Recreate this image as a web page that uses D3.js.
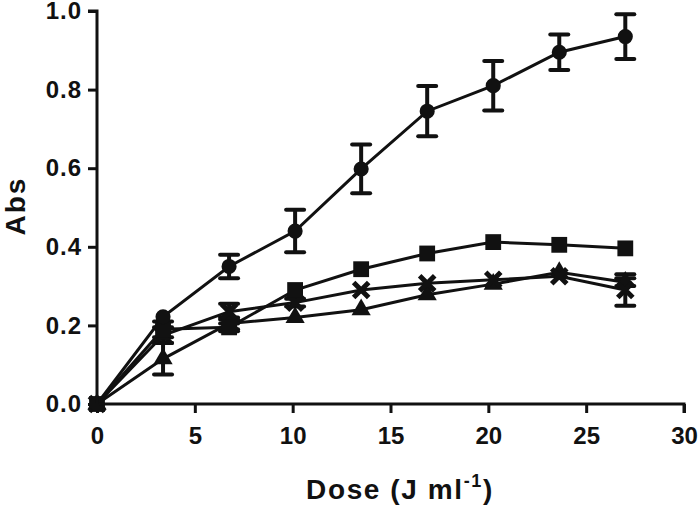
<!DOCTYPE html>
<html><head><meta charset="utf-8">
<script src="https://cdn.jsdelivr.net/npm/d3@7"></script>
<style>body{margin:0;background:#fff}svg{display:block}text{font-family:"Liberation Sans",Arial,sans-serif;font-weight:bold;fill:#111}</style>
</head><body><svg id="c" width="700" height="508"></svg>
<script>
const doses = [0, 3.375, 6.75, 10.125, 13.5, 16.875, 20.25, 23.625, 27];
const circleVals = [0, 0.222, 0.35, 0.44, 0.598, 0.745, 0.81, 0.895, 0.935];
const circleErr  = [0, 0, 0.03, 0.054, 0.062, 0.064, 0.063, 0.045, 0.057];
const squareVals = [0, 0.19, 0.195, 0.29, 0.343, 0.383, 0.412, 0.405, 0.396];
const squareErr  = [0, 0.02, 0.01, 0, 0, 0, 0, 0, 0];
const crossVals  = [0, 0.175, 0.235, 0.258, 0.29, 0.307, 0.316, 0.325, 0.29];
const crossErr   = [0, 0.02, 0.02, 0.01, 0, 0, 0, 0, 0.04];
const triVals    = [0, 0.115, 0.205, 0.22, 0.24, 0.278, 0.305, 0.335, 0.31];
const triErr     = [0, 0.04, 0.015, 0, 0, 0, 0, 0, 0.01];
const xTicks = [0, 5, 10, 15, 20, 25, 30];
const yTicks = [0, 0.2, 0.4, 0.6, 0.8, 1.0];

const svg = d3.select("#c");
const x = d3.scaleLinear().domain([0, 30]).range([97, 684]);
const y = d3.scaleLinear().domain([0, 1]).range([404, 11]);
const col = "#111";

const series = [
  {vals: triVals, err: triErr, sym: "tri"},
  {vals: crossVals, err: crossErr, sym: "cross"},
  {vals: squareVals, err: squareErr, sym: "square"},
  {vals: circleVals, err: circleErr, sym: "circle"}
];

const line = d3.line().x((d,i)=>x(doses[i])).y(d=>y(d));
series.forEach(s => {
  svg.append("path").attr("d", line(s.vals)).attr("fill","none").attr("stroke",col).attr("stroke-width",3);
});
// error bars
series.forEach(s => {
  const g = svg.append("g");
  s.vals.forEach((v,i) => {
    const e = s.err[i];
    if (e <= 0) return;
    const cx = x(doses[i]);
    g.append("line").attr("x1",cx).attr("x2",cx).attr("y1",y(v-e)).attr("y2",y(v+e)).attr("stroke",col).attr("stroke-width",4);
    [v-e, v+e].forEach(t => g.append("line").attr("x1",cx-9).attr("x2",cx+9).attr("y1",y(t)).attr("y2",y(t)).attr("stroke",col).attr("stroke-width",4).attr("stroke-linecap","round"));
  });
});
// markers
const symMap = {tri: d3.symbolTriangle, square: d3.symbolSquare, circle: d3.symbolCircle, cross: d3.symbolX};
const sizeMap = {tri: 160, square: 250, circle: 180, cross: 150};
series.forEach(s => {
  svg.append("g").selectAll("path").data(s.vals).join("path")
    .attr("transform",(d,i)=>`translate(${x(doses[i])},${y(d)})`)
    .attr("d", d3.symbol(symMap[s.sym], sizeMap[s.sym]))
    .attr("fill", col)
    .attr("stroke", s.sym === "cross" ? col : "none")
    .attr("stroke-width", s.sym === "cross" ? 5 : 0);
});

// axes
const xAxis = svg.append("g").attr("transform","translate(0,404)")
  .call(d3.axisBottom(x).tickValues(xTicks).tickSize(9).tickPadding(14).tickFormat(d3.format("d")));
const yAxis = svg.append("g").attr("transform","translate(97,0)")
  .call(d3.axisLeft(y).tickValues(yTicks).tickSize(9).tickPadding(6).tickFormat(d3.format(".1f")));
[xAxis, yAxis].forEach(a => {
  a.select(".domain").attr("stroke",col).attr("stroke-width",3);
  a.selectAll(".tick line").attr("stroke",col).attr("stroke-width",3);
  a.selectAll(".tick text").attr("font-size",24).attr("fill",col).attr("font-family","Liberation Sans, Arial, sans-serif").attr("font-weight","bold");
});
yAxis.selectAll(".tick text").attr("letter-spacing",1);
xAxis.select(".domain").attr("d","M97,0H684V9");
yAxis.select(".domain").attr("d","M-9,11H0V404");

svg.append("text").attr("transform","translate(25,206) rotate(-90)").attr("text-anchor","middle").attr("font-size",28).attr("letter-spacing",2).text("Abs");
const xt = svg.append("text").attr("x",400).attr("y",499).attr("text-anchor","middle").attr("font-size",28).attr("letter-spacing",1.6);
xt.append("tspan").text("Dose (J ml");
xt.append("tspan").attr("dy",-12).attr("font-size",18).text("-1");
xt.append("tspan").attr("dy",12).text(")");
</script></body></html>
